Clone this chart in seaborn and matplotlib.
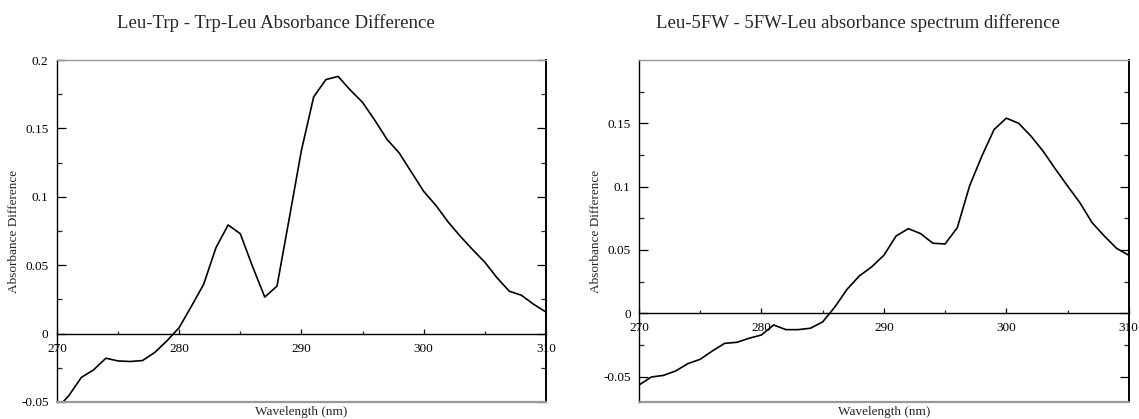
import matplotlib
matplotlib.use("Agg")
import matplotlib.pyplot as plt
import seaborn as sns
import pandas as pd
import numpy as np
from matplotlib.ticker import MultipleLocator, FuncFormatter

# ---- data ----
wavelength = list(range(270, 311))

trp_diff = [-0.055, -0.045, -0.032, -0.0265, -0.018, -0.020, -0.0204, -0.0197,
            -0.0138, -0.0053, 0.0044, 0.020, 0.036, 0.0626, 0.0794, 0.073,
            0.049, 0.0267, 0.0347, 0.084, 0.134, 0.173, 0.1857, 0.188, 0.178,
            0.169, 0.156, 0.142, 0.132, 0.118, 0.104, 0.0937, 0.0816, 0.0711,
            0.0614, 0.0522, 0.0408, 0.031, 0.028, 0.0214, 0.0158]

fw_diff = [-0.0566, -0.0503, -0.049, -0.0455, -0.0397, -0.0363, -0.0297, -0.0237,
           -0.0229, -0.0197, -0.0171, -0.0092, -0.0129, -0.0129, -0.0118, -0.0068,
           0.005, 0.019, 0.0295, 0.0366, 0.0458, 0.061, 0.0668, 0.0629, 0.0553,
           0.0547, 0.0676, 0.1005, 0.124, 0.145, 0.154, 0.150, 0.140, 0.128,
           0.114, 0.1005, 0.0874, 0.0716, 0.061, 0.0513, 0.0458]

titles = ["Leu-Trp - Trp-Leu Absorbance Difference",
          "Leu-5FW - 5FW-Leu absorbance spectrum difference"]
x_label = "Wavelength (nm)"
y_label = "Absorbance Difference"

sns.set_theme(style="ticks")
plt.rcParams['font.family'] = ['Liberation Serif', 'DejaVu Serif']

fig = plt.figure(figsize=(11.39, 4.19), dpi=100)
ax1 = fig.add_axes([0.050, 0.0406, 0.4293, 0.8162])
ax2 = fig.add_axes([0.561, 0.0406, 0.4300, 0.8162])

df1 = pd.DataFrame({"x": wavelength, "y": trp_diff})
df2 = pd.DataFrame({"x": wavelength, "y": fw_diff})

fmt = FuncFormatter(lambda v, p: f"{v:g}" if abs(v) > 1e-12 else "0")

def style(ax, df, ylim, title_x, title):
    sns.lineplot(data=df, x="x", y="y", ax=ax, color="black", linewidth=1.2)
    ax.set_xlim(270, 310)
    ax.set_ylim(*ylim)
    ax.spines['bottom'].set_position(('data', 0))
    ax.spines['bottom'].set_color('black')
    ax.spines['bottom'].set_linewidth(1.0)
    ax.spines['top'].set_visible(True)
    ax.spines['top'].set_color('#999999')
    ax.spines['top'].set_linewidth(1.0)
    ax.spines['left'].set_color('black')
    ax.spines['left'].set_linewidth(1.0)
    ax.spines['right'].set_visible(True)
    ax.spines['right'].set_color('black')
    ax.spines['right'].set_linewidth(1.4)
    ax.plot([0, 1], [0, 0], transform=ax.transAxes, color='#999999',
            linewidth=1.6, clip_on=False, zorder=5)
    ax.xaxis.set_major_locator(MultipleLocator(10))
    ax.xaxis.set_minor_locator(MultipleLocator(5))
    ax.yaxis.set_major_locator(MultipleLocator(0.05))
    ax.yaxis.set_minor_locator(MultipleLocator(0.025))
    ax.yaxis.set_major_formatter(fmt)
    ax.tick_params(axis='y', which='major', direction='in', left=True, right=True,
                   length=6.5, width=0.9, labelsize=9.5, pad=6, colors='black')
    ax.tick_params(axis='y', which='minor', direction='in', left=True, right=True,
                   length=3.5, width=0.9)
    ax.tick_params(axis='x', which='major', direction='in', top=False, bottom=True,
                   length=3.5, width=0.9, labelsize=9.5, pad=6.5, colors='black')
    ax.tick_params(axis='x', which='minor', direction='in', top=False, bottom=True,
                   length=2.5, width=0.9)
    ax.set_xlabel(x_label, fontsize=9.5, labelpad=0)
    ax.xaxis.set_label_coords(0.5, -0.012)
    ax.xaxis.label.set_va('top')
    ax.set_ylabel(y_label, fontsize=9.5, labelpad=0.5)
    fig.text(title_x, 0.945, title, ha='center', va='center', fontsize=13.5)

style(ax1, df1, (-0.05, 0.2), 276 / 1139, titles[0])
style(ax2, df2, (-0.07, 0.1999), 858 / 1139, titles[1])

fig.savefig("out.png", dpi=100)
